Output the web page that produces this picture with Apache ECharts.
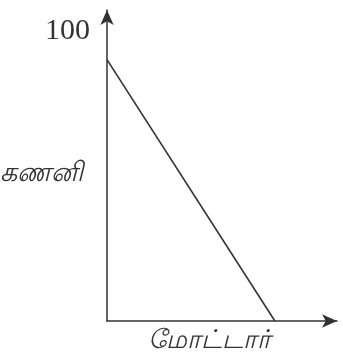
<!DOCTYPE html>
<html>
<head>
<meta charset="utf-8">
<script src="https://cdn.jsdelivr.net/npm/echarts@6/dist/echarts.min.js"></script>
<style>
  html, body { margin: 0; padding: 0; background: #fff; }
  #chart { width: 343px; height: 354px; }
</style>
</head>
<body>
<div id="chart"></div>
<script>
// production possibility line: motor units vs computer units
const motorValues = [0, 100]
const computerValues = [100, 0]
const yTickLabels = [100]
const xAxisName = 'மோட்டார்'
const yAxisName = 'கணனி'

const chart = echarts.init(document.getElementById('chart'))

const option = {
  animation: false,
  grid: {
    left: 107,
    right: 6,
    top: 10,
    bottom: 33,
    containLabel: false,
    outerBoundsMode: 'none',
  },
  xAxis: {
    type: 'value',
    min: 0,
    max: 137,
    name: xAxisName,
    nameLocation: 'middle',
    nameGap: 7,
    nameMoveOverlap: false,
    nameTextStyle: {
      color: '#333',
      fontSize: 26,
      fontStyle: 'italic',
      padding: [0, 26, 0, 0],
    },
    axisLine: {
      show: true,
      symbol: ['none', 'arrow'],
      symbolSize: [10, 15],
      lineStyle: { color: '#333', width: 1.5 },
    },
    axisTick: { show: false },
    axisLabel: { show: false },
    splitLine: { show: false },
  },
  yAxis: {
    type: 'value',
    min: 0,
    max: 119,
    name: yAxisName,
    nameLocation: 'middle',
    nameRotate: 0,
    nameGap: 24,
    nameMoveOverlap: false,
    nameTextStyle: {
      color: '#333',
      fontSize: 27,
      fontStyle: 'italic',
      align: 'right',
      verticalAlign: 'top',
      lineHeight: 15,
    },
    axisLine: {
      show: true,
      symbol: ['none', 'arrow'],
      symbolSize: [10, 15],
      lineStyle: { color: '#333', width: 1.5 },
    },
    axisTick: { show: false },
    splitLine: { show: false },
    axisLabel: {
      show: true,
      margin: 17,
      showMinLabel: false,
      showMaxLabel: false,
      customValues: yTickLabels,
      formatter: (v) => '{v|' + v + '}',
      rich: {
        v: {
          color: '#333',
          fontFamily: 'Liberation Serif',
          fontSize: 30,
          padding: [0, 0, 58, 0],
        },
      },
    },
  },
  series: [
    {
      type: 'line',
      data: motorValues.map((m, i) => [m, computerValues[i]]),
      symbol: 'none',
      lineStyle: { color: '#333', width: 1.6 },
    },
  ],
}

chart.setOption(option)
</script>
</body>
</html>
